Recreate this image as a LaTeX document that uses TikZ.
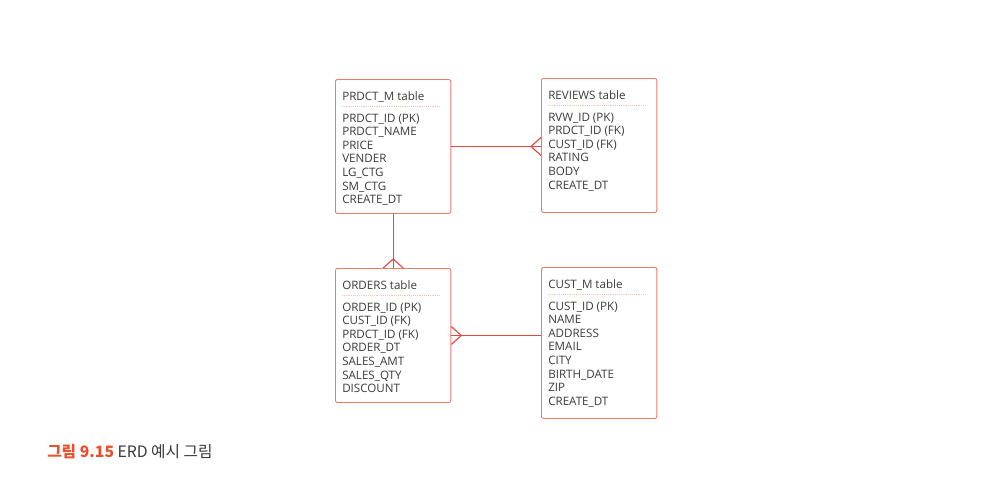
\documentclass[tikz,border=0pt]{standalone}
\usepackage{fontspec}
\setmainfont{Open Sans}
\newfontfamily\krfont{Noto Sans CJK KR}
\usepackage{tikz}
\usetikzlibrary{calc}
\definecolor{boxred}{HTML}{ee7a6c}
\definecolor{linered}{HTML}{e5493c}
\definecolor{seppink}{HTML}{f7c4ba}
\definecolor{textgray}{HTML}{3a3a3a}
\definecolor{capred}{HTML}{e8512f}

\begin{document}
\begin{tikzpicture}[x=0.75pt, y=-0.75pt,
  tbl/.style={draw=boxred, line width=0.7pt, rounded corners=1.5pt, anchor=north west,
    inner sep=0pt, minimum width=86.5pt},
  fld/.style={font=\fontsize{8.7}{10}\selectfont, text=textgray, anchor=base west, inner sep=0pt},
  sep/.style={draw=seppink, line width=0.4pt, densely dotted},
  rel/.style={draw=linered, line width=0.85pt}]
\useasboundingbox (0,0) rectangle (986,486);
% ERD tables: name/left/top/height/fields/title
\foreach \nm/\x/\y/\h/\flds/\ttl in {
  prdct/335/79/134/{PRDCT\_ID (PK),PRDCT\_NAME,PRICE,VENDER,LG\_CTG,SM\_CTG,CREATE\_DT}/PRDCT\_M table,
  reviews/541/78/134/{RVW\_ID (PK),PRDCT\_ID (FK),CUST\_ID (FK),RATING,BODY,CREATE\_DT}/REVIEWS table,
  orders/335/268/134/{ORDER\_ID (PK),CUST\_ID (FK),PRDCT\_ID (FK),ORDER\_DT,SALES\_AMT,SALES\_QTY,DISCOUNT}/ORDERS table,
  custm/541/267/151/{CUST\_ID (PK),NAME,ADDRESS,EMAIL,CITY,BIRTH\_DATE,ZIP,CREATE\_DT}/CUST\_M table
} {
  \node[tbl, minimum height=\h*0.75pt] (\nm) at (\x,\y) {};
  \node[fld] (\nm-title) at ($(\nm.north west)+(7,21)$) {\ttl};
  \draw[sep] ($(\nm.north west)+(7,27)$) -- ($(\nm.north east)+(-11,27)$);
  \foreach \f [count=\k, evaluate=\k as \dy using 43+13.6*\k-13.6] in \flds {
    \node[fld] (\nm-\k) at ($(\nm.north west)+(7,\dy)$) {\f};
  }
}
% Relations (crow's foot on the many side)
\draw[rel] (prdct.east) -- (reviews.west |- prdct.east);
\draw[rel] ($(reviews.west |- prdct.east)+(-10,0)$) -- ($(reviews.west |- prdct.east)+(0,-9)$);
\draw[rel] ($(reviews.west |- prdct.east)+(-10,0)$) -- ($(reviews.west |- prdct.east)+(0,9)$);
\draw[rel] (prdct.south) -- (orders.north);
\draw[rel] ($(orders.north)+(0,-9)$) -- ($(orders.north)+(-10,0)$);
\draw[rel] ($(orders.north)+(0,-9)$) -- ($(orders.north)+(10,0)$);
\draw[rel] (orders.east) -- (custm.west |- orders.east);
\draw[rel] ($(orders.east)+(10,0)$) -- ($(orders.east)+(0,-9)$);
\draw[rel] ($(orders.east)+(10,0)$) -- ($(orders.east)+(0,9)$);
% Caption
\node[font=\krfont\fontsize{11.8}{13}\selectfont, text=textgray, anchor=base west, inner sep=0pt]
  (caption) at (47,457) {\textcolor{capred}{\bfseries 그림 9.15} ERD 예시 그림};
\end{tikzpicture}
\end{document}
